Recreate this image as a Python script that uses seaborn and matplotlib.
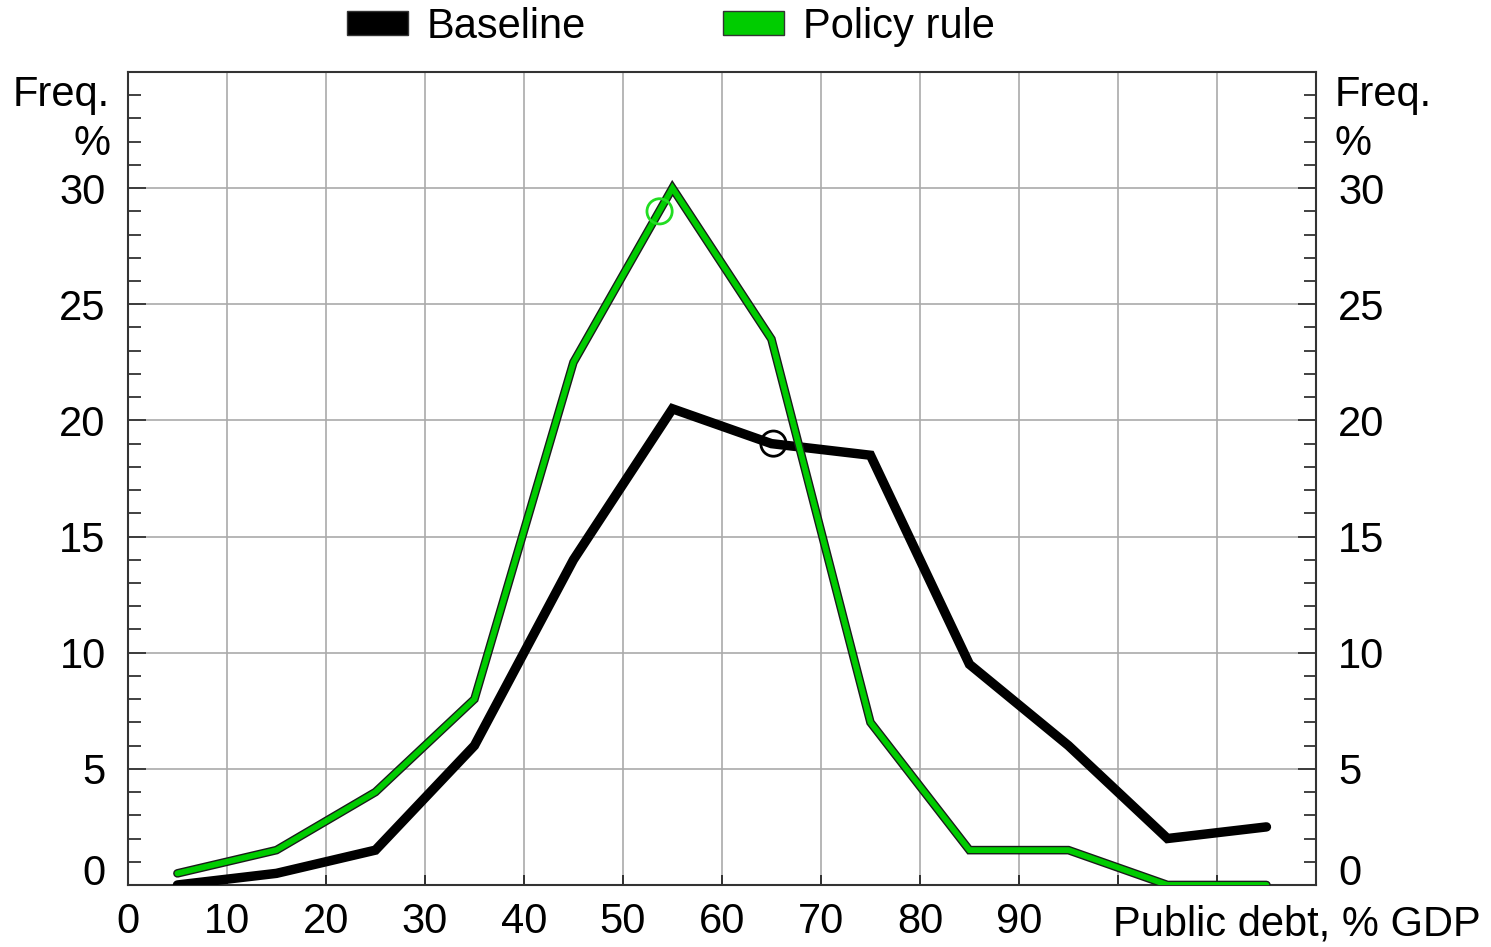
import numpy as np
import pandas as pd
import matplotlib
matplotlib.use("Agg")
import matplotlib.pyplot as plt
import matplotlib.transforms as mtransforms
from matplotlib.patches import Patch
import seaborn as sns

# data (bin midpoints, % of simulations)
debt = [5, 15, 25, 35, 45, 55, 65, 75, 85, 95, 105, 115]
baseline = [0.0, 0.5, 1.5, 6.0, 14.0, 20.5, 19.0, 18.5, 9.5, 6.0, 2.0, 2.5]
policy = [0.5, 1.5, 4.0, 8.0, 22.5, 30.0, 23.5, 7.0, 1.5, 1.5, 0.0, 0.0]
# hollow circles (means)
mean_x = [65.2, 53.7]
mean_y = [19.0, 29.0]
mean_series = ["Baseline", "Policy rule"]
x_ticks = [0, 10, 20, 30, 40, 50, 60, 70, 80, 90, 100, 110, 120]
x_labels = ["0", "10", "20", "30", "40", "50", "60", "70", "80", "90", "", "", ""]
y_ticks = [0, 5, 10, 15, 20, 25, 30]

sns.set_style("ticks")
plt.rcParams['font.family'] = ['Liberation Sans', 'DejaVu Sans']
plt.rcParams['font.size'] = 30
plt.rcParams['text.color'] = 'black'
plt.rcParams['xtick.labelcolor'] = 'black'
plt.rcParams['ytick.labelcolor'] = 'black'

df = pd.DataFrame({"debt": debt, "Baseline": baseline, "Policy rule": policy})
means = pd.DataFrame({"x": mean_x, "y": mean_y, "series": mean_series})

fig = plt.figure(figsize=(14.91, 9.47), dpi=100)
ax = fig.add_axes([0.0858, 0.0655, 0.7968, 0.8585])

ax.grid(True, color="#aaaaaa", linewidth=1.2)
ax.set_axisbelow(True)

sns.lineplot(data=df, x="debt", y="Baseline", ax=ax, color="black", linewidth=6.8,
             solid_joinstyle="miter", zorder=3)
# green line with dark outline
sns.lineplot(data=df, x="debt", y="Policy rule", ax=ax, color="#1a1a1a", linewidth=6.2,
             solid_joinstyle="miter", zorder=4)
sns.lineplot(data=df, x="debt", y="Policy rule", ax=ax, color="#00cc00", linewidth=4.2,
             solid_joinstyle="miter", zorder=5)
sns.scatterplot(data=means, x="x", y="y", hue="series", ax=ax,
                palette={"Baseline": "black", "Policy rule": "#22dd22"},
                s=330, marker="o", linewidth=2, legend=False, zorder=6)
for c in ax.collections:
    c.set_facecolor("none")
    c.set_edgecolor(["black", "#22dd22"])

ax.set_xlim(0, 120)
ax.set_ylim(0, 35)
ax.set_xlabel("")
ax.set_ylabel("")
ax.set_xticks(x_ticks)
ax.set_xticklabels(x_labels)
ax.set_yticks(y_ticks)
ax.set_yticks(np.arange(0, 35, 1), minor=True)
ax.tick_params(axis="y", which="both", direction="in", left=True, right=True,
               labelleft=True, labelright=True, width=1.3, color="#333333")
ax.tick_params(axis="y", which="major", length=13, pad=16)
ax.tick_params(axis="y", which="minor", length=9)
ax.tick_params(axis="x", which="major", direction="in", length=7, width=1.3, pad=12)
for s in ax.spines.values():
    s.set_color("#333333")
    s.set_linewidth(1.5)

# lift the zero labels slightly like the original
offset = mtransforms.ScaledTranslation(0, 15 / 100, fig.dpi_scale_trans)
t0 = ax.yaxis.get_major_ticks()[0]
t0.label1.set_transform(t0.label1.get_transform() + offset)
t0.label2.set_transform(t0.label2.get_transform() + offset)

tr_left = mtransforms.blended_transform_factory(ax.transAxes, ax.transData)
ax.text(-0.015, 34.0, "Freq.", transform=tr_left, ha="right", va="center")
ax.text(-0.015, 31.9, "%", transform=tr_left, ha="right", va="center")
ax.text(1.016, 34.0, "Freq.", transform=tr_left, ha="left", va="center")
ax.text(1.016, 31.9, "%", transform=tr_left, ha="left", va="center")
fig.text(0.993, 0.024, "Public debt, % GDP", ha="right", va="center")

handles = [Patch(facecolor="black", edgecolor="#333333", label="Baseline"),
           Patch(facecolor="#00cc00", edgecolor="#333333", label="Policy rule")]
fig.legend(handles=handles, loc="center", bbox_to_anchor=(0.45, 0.972), ncol=2,
           frameon=False, handlelength=1.45, handleheight=0.5, columnspacing=3.3,
           handletextpad=0.45)

fig.savefig("out.png", dpi=100)
